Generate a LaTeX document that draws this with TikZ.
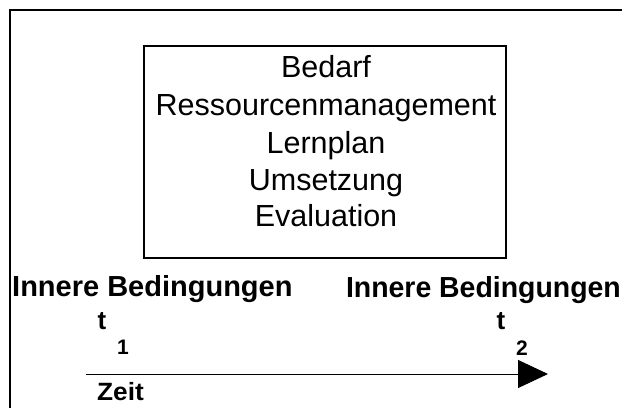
\documentclass[tikz,border=0pt]{standalone}
\usepackage{fontspec}
\usepackage{graphicx}
\setmainfont{Liberation Sans}
\usetikzlibrary{arrows.meta}
\newcommand\wide[2]{\scalebox{#1}[1]{#2}}
\tikzset{
  frameline/.style={line width=1.3pt, black},
  plantext/.style={font=\fontsize{30.5}{36}\selectfont, inner sep=0pt, anchor=base},
  headtext/.style={font=\bfseries\fontsize{29}{32}\selectfont, inner sep=0pt},
  timetext/.style={font=\bfseries\fontsize{26}{30}\selectfont, inner sep=0pt, anchor=base},
  indextext/.style={font=\bfseries\fontsize{21}{24}\selectfont, inner sep=0pt, anchor=base},
  axistext/.style={font=\bfseries\fontsize{25}{28}\selectfont, inner sep=0pt, anchor=base west},
}
\begin{document}
\begin{tikzpicture}[x=1pt, y=-1pt]
\useasboundingbox (0,0) rectangle (622,408);

% outer frame (left and top sides)
\coordinate (fbl) at (10,408);
\coordinate (ftl) at (10,10);
\coordinate (ftr) at (622,10);
\draw[frameline] (fbl) -- (ftl) -- (ftr);

% planning box
\node[draw, line width=1.3pt, minimum width=362pt, minimum height=212pt, inner sep=0pt] (box) at (325,152) {};
\node[plantext] (l1) at (326,77)  {Bedarf};
\node[plantext] (l2) at (326,115) {Ressourcenmanagement};
\node[plantext] (l3) at (326,153) {Lernplan};
\node[plantext] (l4) at (326,190) {Umsetzung};
\node[plantext] (l5) at (326,226) {Evaluation};

% conditions at both points in time
\node[headtext, anchor=base west] (ib1) at (12,296) {Innere Bedingungen};
\node[headtext, anchor=base east] (ib2) at (621,297) {\wide{0.98}{Innere Bedingungen}};

% time points
\node[timetext] (t1) at (102,329) {t};
\node[indextext] (i1) at (123,354) {1};
\node[timetext] (t2) at (501,329) {t};
\node[indextext] (i2) at (522,355) {2};

% time axis
\coordinate (axs) at (86,374);
\coordinate (axe) at (548,374);
\draw[line width=1pt, -{Triangle[length=30pt, width=28pt]}] (axs) -- (axe);
\node[axistext] (zeit) at (97,400) {\wide{1.05}{Zeit}};
\end{tikzpicture}
\end{document}
